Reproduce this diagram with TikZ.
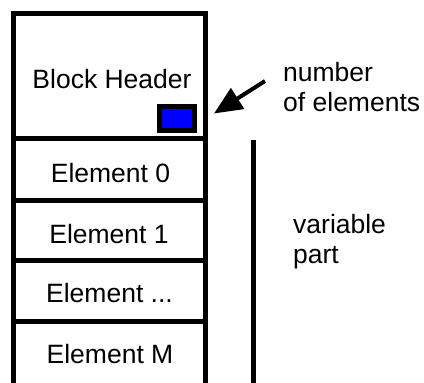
\documentclass[tikz,border=0pt]{standalone}
\usepackage{fontspec}
\setmainfont{Liberation Sans}
\usetikzlibrary{arrows.meta}
\begin{document}
\begin{tikzpicture}[x=1pt,y=-1pt,
  frame/.style={line width=5pt},
  lbl/.style={font=\fontsize{26.5}{30}\selectfont, anchor=base, inner sep=0pt},
  note/.style={font=\fontsize{26.5}{30}\selectfont, anchor=base west, inner sep=0pt}]
\useasboundingbox (0,0) rectangle (424,383);
\fill[white] (0,0) rectangle (424,383);
% outer frame and dividers
\draw[frame] (13.5,383) -- (13.5,13.5) -- (205,13.5) -- (205,383);
\draw[frame] (13.5,138.5) -- (205,138.5);
\draw[frame] (13.5,200.5) -- (205,200.5);
\draw[frame] (13.5,260) -- (205,260);
\draw[frame] (13.5,321.5) -- (205,321.5);
% cell labels
\node[lbl] (hdr) at (112,88) {Block Header};
\node[lbl] (e0) at (110.5,182) {Element 0};
\node[lbl] (e1) at (109,243) {Element 1};
\node[lbl] (edots) at (109.5,302) {Element ...};
\node[lbl] (em) at (110,363) {Element M};
% count field
\node[draw, line width=5pt, fill=blue, inner sep=0pt, minimum width=34.5pt, minimum height=23.5pt] (cnt) at (176.75,118.25) {};
% arrow
\coordinate (arrtail) at (265,81);
\coordinate (arrtip) at (214,113.5);
\draw[line width=4pt, -{Triangle[length=28pt,width=24pt]}] (arrtail) -- (arrtip);
% notes
\node[note] (n1) at (283,81) {number};
\node[note] (n2) at (283,111) {of elements};
% variable part bar
\coordinate (bartop) at (253.5,140);
\coordinate (barbot) at (253.5,383);
\draw[line width=5pt] (bartop) -- (barbot);
\node[note] (v1) at (293,233) {variable};
\node[note] (v2) at (293,263) {part};
\end{tikzpicture}
\end{document}
